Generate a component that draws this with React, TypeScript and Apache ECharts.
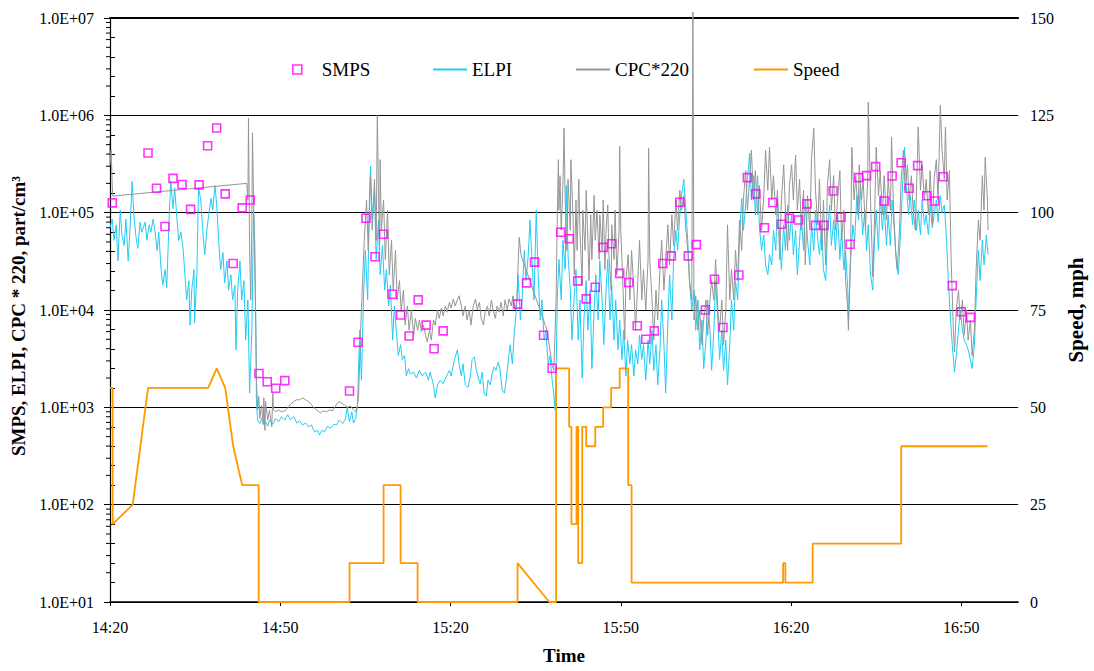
import React, { useEffect, useRef } from "react";
import * as echarts from "echarts";

// time in minutes after 14:20
const X_TICKS = [0, 30, 60, 90, 120, 150];

const SMPS: number[][] = [
  [0.4, 1.26e5], [6.7, 4.1e5], [8.2, 1.78e5], [9.7, 7.2e4], [11.1, 2.25e5], [12.7, 1.95e5],
  [14.2, 1.08e5], [15.7, 1.93e5], [17.2, 4.87e5], [18.8, 7.4e5], [20.3, 1.56e5], [21.7, 3.0e4],
  [23.3, 1.12e5], [24.7, 1.35e5], [26.25, 2.23e3], [27.7, 1.83e3], [29.2, 1.57e3], [30.8, 1.88e3],
  [42.2, 1.47e3], [43.7, 4.66e3], [45.1, 8.75e4], [46.7, 3.53e4], [48.2, 6.0e4], [49.7, 1.45e4],
  [51.2, 8.9e3], [52.7, 5.4e3], [54.3, 1.27e4], [55.7, 7.0e3], [57.1, 4.0e3], [58.7, 6.1e3],
  [71.8, 1.15e4], [73.4, 1.9e4], [74.8, 3.1e4], [76.4, 5.5e3], [77.9, 2.52e3], [79.4, 6.3e4],
  [80.9, 5.4e4], [82.4, 1.99e4], [83.9, 1.3e4], [85.5, 1.71e4], [86.9, 4.4e4], [88.4, 4.8e4],
  [89.8, 2.38e4], [91.4, 1.92e4], [92.9, 6.9e3], [94.4, 5.0e3], [95.9, 6.1e3], [97.4, 3.0e4],
  [98.9, 3.6e4], [100.4, 1.28e5], [101.9, 3.6e4], [103.3, 4.7e4], [104.9, 1.0e4], [106.5, 2.07e4],
  [108.0, 6.6e3], [110.8, 2.29e4], [112.3, 2.29e5], [113.8, 1.56e5], [115.3, 7.0e4], [116.8, 1.27e5],
  [118.3, 7.6e4], [119.7, 8.75e4], [121.3, 8.4e4], [122.8, 1.23e5], [124.3, 7.4e4], [125.8, 7.4e4],
  [127.4, 1.67e5], [128.8, 8.96e4], [130.4, 4.73e4], [131.9, 2.29e5], [133.3, 2.4e5], [134.9, 2.97e5],
  [136.4, 1.32e5], [137.8, 2.38e5], [139.4, 3.26e5], [140.8, 1.78e5], [142.3, 3.04e5], [143.9, 1.49e5],
  [145.3, 1.32e5], [146.8, 2.34e5], [148.4, 1.78e4], [150.0, 9.6e3], [151.6, 8.4e3],
];

const ELPI: number[][] = [
  [0, 7.0e4], [0.4, 8.6e4], [0.7, 5.2e4], [1.1, 7.5e4], [1.4, 3.2e4], [1.8, 1.06e5], [2.1, 5.9e4],
  [2.5, 4.6e4], [2.8, 8.6e4], [3.2, 3.2e4], [3.5, 6.3e4], [3.9, 2.1e5], [4.2, 9.5e4], [4.6, 5.5e4],
  [4.9, 4.3e4], [5.3, 8.0e4], [5.6, 6.3e4], [6.2, 8.0e4], [6.5, 5.2e4], [6.9, 7.5e4], [7.2, 6.3e4],
  [7.6, 8.6e4], [7.9, 6.6e4], [8.3, 4.1e4], [8.6, 6.3e4], [9.0, 2.6e4], [9.3, 1.8e4], [9.7, 2.6e4],
  [10.0, 1.7e4], [10.4, 8.4e4], [10.7, 2.1e5], [11.1, 1.1e5], [11.4, 1.8e5], [11.8, 8.6e4],
  [12.1, 5.2e4], [12.5, 6.3e4], [12.9, 4.1e4], [13.2, 2.3e4], [13.5, 1.27e4], [13.9, 2.0e4],
  [14.1, 7.0e3], [14.4, 1.6e4], [14.8, 2.6e4], [14.9, 7.4e3], [15.3, 2.3e4], [15.6, 1.8e5],
  [16.0, 1.35e5], [16.4, 5.9e4], [16.7, 3.7e4], [17.1, 7.0e4], [17.4, 9.5e4], [17.8, 1.4e5],
  [18.1, 1.06e5], [18.5, 1.9e5], [18.8, 1.2e5], [19.2, 4.6e4], [19.5, 2.6e4], [19.9, 3.9e4],
  [20.2, 1.9e4], [20.6, 3.2e4], [20.9, 1.6e4], [21.3, 2.3e4], [21.6, 1.27e4], [22.0, 1.8e4],
  [22.2, 3.9e3], [22.5, 1.6e4], [22.9, 3.2e4], [23.2, 1.27e4], [23.6, 2.0e4], [23.9, 4.9e3],
  [24.3, 1.27e4], [24.6, 1.4e3], [25.0, 6.2e3], [25.3, 1.06e5], [25.5, 5.2e4], [25.7, 6.2e3],
  [25.8, 1.19e3], [26.0, 7.4e2],
  [26.4, 6.8e2], [26.7, 7.7e2], [27.1, 6.6e2], [27.4, 7.1e2], [27.8, 6.4e2], [28.1, 7.4e2],
  [28.7, 6.7e2], [29.2, 7.7e2], [29.7, 7.1e2], [30.2, 8.0e2], [30.8, 7.4e2], [31.3, 8.4e2],
  [31.8, 7.5e2], [32.4, 8.0e2], [32.9, 6.9e2], [33.4, 7.3e2], [33.9, 6.6e2], [34.5, 6.9e2],
  [35.0, 6.3e2], [35.5, 6.6e2], [36.0, 5.6e2], [36.6, 5.8e2], [36.9, 5.2e2], [37.3, 5.8e2],
  [37.8, 5.6e2], [38.3, 6.4e2], [38.9, 6.1e2], [39.4, 6.7e2], [39.9, 6.6e2], [40.4, 7.4e2],
  [41.0, 6.8e2], [41.5, 7.7e2], [41.8, 1.0e3], [42.2, 7.1e2], [42.6, 9.0e2], [42.9, 6.9e2],
  [43.3, 7.7e2], [43.6, 1.05e3],
  [44.0, 6.2e3], [44.3, 1.9e3], [44.7, 1.6e4], [45.0, 4.1e4], [45.4, 1.27e4], [45.7, 1.35e5],
  [45.9, 3.0e5], [46.2, 8.4e4], [46.6, 1.7e5], [46.9, 3.3e4], [47.3, 8.4e4], [47.6, 2.3e4],
  [48.0, 4.6e4], [48.4, 1.6e4], [48.7, 2.6e4], [49.1, 1.1e4], [49.4, 1.8e4], [49.8, 4.9e3],
  [50.1, 1.1e4], [50.5, 5.5e3], [50.8, 3.4e3], [51.2, 4.4e3], [51.5, 3.1e3], [51.9, 3.4e3],
  [52.2, 2.1e3], [52.6, 2.5e3], [52.9, 2.2e3], [53.5, 2.3e3], [54.0, 2.0e3], [54.5, 2.4e3],
  [55.0, 2.1e3], [55.6, 2.3e3], [56.1, 1.9e3], [56.4, 2.3e3], [57.0, 1.7e3], [57.3, 1.25e3],
  [57.7, 1.7e3], [58.2, 1.9e3], [58.7, 1.75e3], [59.3, 2.1e3], [59.8, 2.4e3], [60.1, 2.1e3],
  [60.7, 3.1e3], [61.2, 3.9e3], [61.5, 2.8e3], [61.9, 2.1e3], [62.2, 2.8e3], [62.6, 1.7e3],
  [63.1, 1.6e3], [63.5, 2.1e3], [63.8, 3.1e3], [64.2, 3.3e3], [64.5, 2.5e3], [64.9, 2.0e3],
  [65.2, 1.75e3], [65.6, 2.3e3], [65.9, 1.4e3], [66.3, 1.3e3], [66.6, 1.9e3], [67.0, 1.7e3],
  [67.3, 2.2e3], [67.7, 2.6e3], [68.0, 2.4e3], [68.4, 2.9e3], [68.7, 2.5e3], [69.1, 1.5e3],
  [69.5, 1.4e3], [69.8, 1.9e3], [70.2, 3.1e3], [70.5, 4.4e3], [70.9, 2.8e3], [71.2, 5.5e3],
  [71.6, 1.0e4], [71.9, 2.3e4], [72.3, 7.9e3], [72.6, 1.27e4], [73.0, 4.1e4], [73.3, 2.0e4],
  [73.7, 3.7e4], [74.0, 8.4e4], [74.4, 2.9e4], [74.7, 1.27e4], [75.1, 1.06e5], [75.4, 2.6e4],
  [75.8, 7.9e3], [76.1, 1.27e4], [76.5, 4.9e3], [76.8, 6.2e3], [77.2, 2.8e3], [77.5, 3.4e3],
  [77.9, 1.9e3], [78.2, 1.35e3], [78.4, 9.4e2], [78.6, 2.4e3],
  [78.8, 1.27e4], [79.1, 3.3e4], [79.5, 1.27e4], [79.8, 5.2e4], [80.2, 2.6e4], [80.4, 1.9e5],
  [80.7, 3.7e4], [81.1, 1.6e4], [81.4, 4.9e3], [81.8, 1.4e4], [82.1, 2.6e4], [82.5, 4.9e3],
  [82.8, 1.27e4], [83.2, 2.0e3], [83.5, 7.9e3], [83.9, 2.0e4], [84.2, 6.2e3], [84.6, 1.6e4],
  [84.9, 2.5e3], [85.3, 1.0e4], [85.6, 2.3e4], [86.0, 7.9e3], [86.3, 3.2e4], [86.7, 1.27e4],
  [87.0, 4.4e3], [87.4, 1.6e4], [87.7, 3.3e4], [88.1, 7.9e3], [88.4, 1.8e4], [88.8, 4.9e3],
  [89.1, 1.27e4], [89.5, 3.9e3], [89.8, 7.9e3], [90.2, 3.1e3], [90.5, 6.2e3], [90.9, 2.1e3],
  [91.2, 4.9e3], [91.6, 2.8e3], [91.9, 4.4e3], [92.3, 2.1e3], [92.6, 3.9e3], [93.0, 2.8e3],
  [93.3, 5.5e3], [93.7, 3.1e3], [94.0, 4.4e3], [94.4, 1.9e3], [94.8, 4.9e3], [95.1, 2.8e3],
  [95.5, 6.2e3], [95.8, 2.4e3], [96.2, 4.4e3], [96.5, 1.7e3], [96.9, 3.9e3], [97.2, 1.27e4],
  [97.6, 4.4e3], [97.9, 1.4e3], [98.3, 7.9e3], [98.6, 2.3e4], [99.0, 7.9e3], [99.3, 3.3e4],
  [99.7, 6.6e4], [100.0, 4.1e4], [100.4, 9.5e4], [100.7, 1.5e5], [101.1, 2.2e5], [101.4, 1.2e5],
  [101.8, 5.2e4], [102.1, 2.0e4], [102.5, 1.0e4], [102.9, 1.6e4], [103.2, 6.2e3], [103.6, 1.27e4],
  [103.9, 3.9e3], [104.3, 7.9e3], [104.6, 2.5e3], [105.0, 4.9e3], [105.3, 1.27e4], [105.7, 6.2e3],
  [106.0, 2.4e3], [106.4, 6.2e3], [106.7, 2.0e4], [107.1, 7.9e3], [107.4, 3.1e3], [107.8, 6.2e3],
  [108.1, 2.4e3], [108.5, 4.9e3], [108.8, 1.7e3], [109.2, 4.4e3], [109.5, 1.27e4], [109.9, 6.2e3],
  [110.2, 2.0e4], [110.6, 1.27e4], [110.9, 5.2e4], [111.3, 1.4e5], [111.6, 6.6e4],
  [112.0, 1.2e5], [112.3, 2.2e5], [112.7, 4.1e5], [113.0, 1.35e5], [113.4, 2.4e5], [113.7, 9.5e4],
  [114.1, 2.4e5], [114.4, 7.5e4], [114.8, 4.1e4], [115.2, 5.9e4], [115.5, 2.9e4], [115.9, 2.3e4],
  [116.2, 3.7e4], [116.6, 2.9e4], [116.9, 6.6e4], [117.3, 4.1e4], [117.6, 1.35e5], [118.0, 5.2e4],
  [118.3, 2.6e4], [118.7, 7.5e4], [119.0, 4.1e4], [119.4, 1.2e5], [119.7, 5.2e4], [120.1, 9.5e4],
  [120.4, 3.7e4], [120.8, 6.6e4], [121.1, 2.3e4], [121.5, 5.2e4], [121.8, 9.5e4], [122.2, 4.1e4],
  [122.5, 1.35e5], [122.9, 5.2e4], [123.3, 2.9e4], [123.6, 7.5e4], [124.0, 4.1e4], [124.3, 1.06e5],
  [124.7, 5.2e4], [125.0, 3.7e4], [125.4, 7.5e4], [125.7, 2.6e4], [126.1, 2.0e4], [126.4, 5.9e4],
  [126.8, 1.2e5], [127.1, 4.6e4], [127.5, 8.4e4], [127.8, 4.1e4], [128.2, 9.5e4], [128.6, 3.3e4],
  [128.9, 6.6e4], [129.3, 2.6e4], [129.6, 4.1e4], [130.0, 1.6e4], [130.1, 7.9e3], [130.5, 3.3e4],
  [130.9, 7.5e4], [131.2, 5.2e4], [131.6, 1.5e5], [131.9, 8.4e4], [132.2, 1.9e5], [132.6, 5.9e4],
  [133.0, 1.06e5], [133.3, 4.1e4], [133.6, 7.5e4], [134.0, 2.3e4], [134.4, 1.6e4], [134.7, 5.2e4],
  [135.0, 1.06e5], [135.4, 4.1e4], [135.7, 1.5e5], [136.1, 6.6e4], [136.4, 1.2e5], [136.8, 4.6e4],
  [137.1, 9.5e4], [137.5, 4.6e4], [137.8, 1.35e5], [138.2, 6.6e4], [138.6, 2.9e4], [138.9, 2.3e4],
  [139.3, 6.6e4], [139.6, 1.7e5], [140.0, 4.7e5], [140.3, 1.9e5], [140.7, 9.5e4], [141.0, 1.5e5],
  [141.4, 7.5e4], [141.7, 1.35e5], [142.1, 6.6e4], [142.4, 1.06e5], [142.8, 5.9e4], [143.1, 1.35e5],
  [143.5, 7.5e4], [143.8, 9.5e4], [144.2, 5.9e4], [144.5, 1.2e5], [144.9, 7.0e4], [145.2, 9.5e4],
  [145.6, 1.35e5], [145.9, 8.0e4], [146.3, 1.5e5], [146.6, 1.0e5], [147.0, 1.2e5], [147.4, 5.2e4],
  [147.7, 2.0e4], [148.1, 7.9e3], [148.4, 4.4e3], [148.8, 2.3e3], [149.1, 3.4e3], [149.5, 6.2e3],
  [149.8, 1.0e4], [150.2, 6.2e3], [150.5, 4.9e3], [150.9, 4.4e3], [151.2, 3.9e3], [151.6, 3.1e3],
  [151.9, 2.5e3], [152.3, 4.4e3], [152.6, 1.27e4], [153.0, 4.1e4], [153.3, 2.0e4], [153.7, 5.2e4],
  [154.0, 2.9e4], [154.4, 5.9e4], [154.7, 3.7e4],
];

const CPC: number[][] = [
  [-0.7, 7.1e5], [-0.5, 1.13e6], [-0.4, 2.2e5], [-0.2, 5.6e5], [0, 3.1e5], [0.2, 4.4e5],
  [0.4, 1.9e5], [0.5, 1.48e5], [24.1, 2.0e5], [24.3, 1.35e5], [24.4, 9.4e5], [24.6, 4.1e4],
  [24.8, 1.27e4], [25.0, 8.4e4], [25.1, 6.6e5], [25.3, 1.35e5], [25.5, 3.3e4], [25.7, 6.2e3],
  [25.8, 1.9e3], [26.0, 9.4e2],
  [26.2, 1.3e3], [26.4, 7.7e2], [26.7, 1.05e3], [27.0, 6.7e2], [27.1, 1.25e3], [27.3, 5.8e2],
  [27.4, 1.15e3], [27.8, 7.4e2], [28.1, 9.4e2], [28.5, 6.3e2], [28.7, 1.4e3], [28.8, 9.4e2],
  [29.2, 9.0e2], [29.7, 9.4e2], [30.2, 9.0e2], [30.8, 9.2e2], [31.3, 9.8e2], [31.8, 1.08e3],
  [32.4, 1.15e3], [32.9, 1.2e3], [33.4, 1.19e3], [33.9, 1.25e3], [34.5, 1.19e3], [35.0, 1.15e3],
  [35.5, 1.06e3], [36.0, 9.8e2], [36.6, 9.2e2], [37.1, 8.8e2], [37.6, 9.2e2], [38.2, 9.0e2],
  [38.7, 9.4e2], [39.2, 9.2e2], [39.7, 1.03e3], [40.3, 1.15e3], [40.8, 1.1e3], [41.3, 1.06e3],
  [41.8, 1.0e3], [42.4, 1.03e3], [42.9, 9.4e2], [43.3, 9.0e2], [43.6, 1.05e3], [43.8, 1.3e3],
  [44.1, 4.9e3], [44.5, 2.0e4], [44.8, 5.2e4], [45.2, 1.35e5], [45.5, 4.1e4], [45.9, 2.4e5],
  [46.2, 6.6e4], [46.6, 2.2e5], [46.9, 5.2e4], [47.1, 1.0e6], [47.3, 1.7e5], [47.5, 4.1e4],
  [47.6, 3.5e5], [47.8, 6.6e4], [48.2, 1.35e5], [48.5, 3.3e4], [48.9, 1.06e5], [49.2, 2.3e4],
  [49.6, 5.2e4], [49.9, 1.6e4], [50.3, 4.1e4], [50.6, 1.27e4], [51.0, 2.0e4], [51.3, 1.0e4],
  [51.7, 1.6e4], [52.0, 7.0e3], [52.4, 1.1e4], [52.7, 6.2e3], [53.1, 1.0e4], [53.5, 5.5e3],
  [53.8, 8.2e3], [54.2, 6.2e3], [54.5, 7.9e3], [54.9, 6.0e3], [55.2, 7.0e3], [55.6, 5.5e3],
  [55.9, 4.7e3], [56.3, 6.2e3], [56.6, 4.9e3], [57.0, 7.9e3], [57.3, 7.0e3], [57.7, 1.0e4],
  [58.0, 8.2e3], [58.4, 1.05e4], [58.7, 8.7e3], [59.1, 1.1e4], [59.4, 9.5e3], [59.8, 1.2e4],
  [60.1, 1.05e4], [60.5, 1.3e4], [60.8, 1.1e4], [61.2, 1.27e4], [61.5, 1.4e4], [61.9, 1.1e4],
  [62.2, 8.7e3], [62.6, 1.1e4], [62.9, 7.9e3], [63.3, 1.0e4], [63.6, 7.0e3], [64.0, 1.1e4],
  [64.4, 1.3e4], [64.7, 1.0e4], [65.1, 1.2e4], [65.4, 8.2e3], [65.8, 7.0e3], [66.1, 9.5e3],
  [66.5, 1.1e4], [66.8, 8.7e3], [67.2, 1.27e4], [67.5, 1.0e4], [67.9, 8.2e3], [68.2, 1.1e4],
  [68.6, 9.5e3], [68.9, 1.2e4], [69.3, 8.7e3], [69.6, 1.27e4], [70.0, 1.0e4], [70.3, 1.3e4],
  [70.7, 1.1e4], [71.0, 1.4e4], [71.4, 1.0e4], [71.7, 1.27e4], [71.9, 2.9e4], [72.1, 5.6e4],
  [72.4, 3.7e4], [77.0, 6.2e3], [77.9, 2.7e3], [78.2, 2.4e3],
  [78.6, 1.27e4], [78.8, 8.4e4], [79.0, 3.5e5], [79.1, 1.06e5], [79.3, 2.4e5], [79.5, 6.6e4],
  [79.8, 1.9e5], [80.0, 7.4e5], [80.2, 1.35e5], [80.5, 4.1e4], [80.7, 2.2e5], [81.1, 6.6e4],
  [81.2, 3.5e5], [81.6, 8.4e4], [81.8, 2.3e4], [82.1, 1.35e5], [82.3, 4.1e4], [82.6, 2.2e5],
  [82.8, 6.6e4], [83.2, 1.8e4], [83.3, 1.06e5], [83.7, 4.1e4], [83.9, 1.7e5], [84.2, 5.2e4],
  [84.4, 2.0e4], [84.7, 9.5e4], [84.9, 3.3e4], [85.3, 1.5e5], [85.5, 5.2e4], [85.8, 1.06e5],
  [86.2, 3.3e4], [86.3, 9.5e4], [86.7, 4.1e4], [86.9, 1.35e5], [87.2, 2.6e4], [87.4, 6.6e4],
  [87.7, 1.2e5], [87.9, 3.7e4], [88.3, 1.6e4], [88.4, 7.5e4], [88.8, 3.3e4], [89.0, 1.06e5],
  [89.3, 2.3e4], [89.7, 6.6e4], [89.8, 4.8e5], [90.0, 6.6e4], [90.4, 1.6e4], [90.7, 4.9e3],
  [90.9, 2.0e4], [91.3, 3.7e4], [91.6, 1.27e4], [91.9, 4.1e4], [92.3, 1.6e4], [92.6, 6.2e3],
  [93.0, 2.0e4], [93.3, 5.2e4], [93.7, 1.27e4], [94.0, 2.6e4], [94.4, 1.0e4], [94.8, 3.3e4],
  [94.9, 4.6e5], [95.1, 3.3e4], [95.5, 1.27e4], [95.8, 4.9e3], [96.2, 1.6e4], [96.5, 7.9e3],
  [96.9, 2.6e4], [97.2, 5.2e4], [97.6, 1.6e4], [97.9, 3.3e4], [98.3, 7.5e4], [98.6, 2.9e4],
  [99.0, 9.5e4], [99.3, 4.6e4], [99.7, 1.35e5], [100.0, 6.6e4], [100.4, 1.7e5], [100.7, 1.06e5],
  [101.1, 1.5e5], [101.4, 7.5e4], [101.8, 4.1e4], [102.1, 2.0e4], [102.5, 1.27e4], [102.7, 1.15e7],
  [102.9, 7.9e3], [103.2, 1.4e4], [103.6, 6.2e3], [103.9, 1.0e4], [104.3, 4.4e3], [104.6, 7.9e3],
  [105.0, 1.27e4], [105.3, 5.5e3], [105.7, 1.27e4], [106.0, 2.0e4], [106.4, 1.27e4], [106.7, 3.3e4],
  [107.1, 1.0e4], [107.4, 6.2e3], [107.8, 1.27e4], [108.1, 4.4e3], [108.5, 1.0e4], [108.8, 7.5e4],
  [109.2, 1.27e4], [109.5, 2.6e4], [109.9, 1.27e4], [110.2, 4.1e4], [110.6, 2.0e4], [110.9, 8.4e4],
  [111.3, 4.1e4], [111.6, 1.35e5],
  [112.0, 2.7e5], [112.3, 1.06e5], [112.7, 2.2e5], [113.0, 4.4e5], [113.4, 1.35e5], [113.7, 2.7e5],
  [114.1, 9.5e4], [114.4, 1.9e5], [114.8, 6.6e4], [115.2, 1.5e5], [115.5, 4.4e5], [115.9, 1.7e5],
  [116.2, 4.7e5], [116.6, 1.35e5], [116.9, 2.4e5], [117.3, 9.5e4], [117.6, 1.7e5], [118.0, 3.3e4],
  [118.3, 1.35e5], [118.7, 3.1e5], [119.0, 1.06e5], [119.4, 4.1e4], [119.7, 1.9e5], [120.1, 3.1e5],
  [120.4, 1.35e5], [120.8, 3.9e5], [121.1, 1.06e5], [121.5, 2.2e5], [121.8, 6.6e4], [122.2, 1.7e5],
  [122.5, 2.9e4], [122.9, 1.5e5], [123.3, 6.6e4], [123.6, 3.5e5], [124.0, 7.4e5], [124.3, 1.7e5],
  [124.7, 7.5e4], [125.0, 2.2e5], [125.4, 4.1e4], [125.7, 1.35e5], [126.1, 2.9e4], [126.4, 1.9e5],
  [126.8, 3.5e5], [127.1, 1.06e5], [127.5, 2.4e5], [127.8, 6.6e4], [128.2, 1.35e5], [128.6, 2.7e5],
  [128.9, 5.2e4], [129.3, 1.06e5], [129.6, 2.0e4], [130.0, 1.0e4], [130.1, 6.2e3], [130.5, 4.1e4],
  [130.7, 4.7e5], [131.1, 1.35e5], [131.4, 2.4e5], [131.8, 9.5e4], [132.0, 3.1e5], [132.4, 1.35e5],
  [132.7, 2.2e5], [133.1, 6.6e4], [133.5, 2.2e5], [133.6, 1.37e6], [134.0, 1.35e5], [134.4, 2.2e4],
  [134.7, 8.4e4], [135.0, 4.7e5], [135.4, 1.5e5], [135.7, 2.7e5], [136.1, 9.5e4], [136.4, 2.4e5],
  [136.8, 8.4e4], [137.1, 2.2e5], [137.5, 1.06e5], [137.7, 6.0e5], [138.0, 1.35e5], [138.4, 4.1e4],
  [138.7, 2.6e4], [139.1, 6.6e4], [139.4, 2.2e5], [139.8, 4.4e5], [140.1, 1.7e5], [140.5, 3.1e5],
  [140.8, 1.35e5], [141.2, 2.4e5], [141.5, 1.06e5], [141.9, 6.6e4], [142.2, 2.7e5], [142.4, 7.6e5],
  [142.8, 1.7e5], [143.1, 3.1e5], [143.5, 1.35e5], [143.8, 2.2e5], [144.2, 9.5e4], [144.5, 2.7e5],
  [144.9, 7.5e4], [145.2, 2.2e5], [145.6, 3.5e5], [145.9, 1.35e5], [146.3, 1.27e6], [146.6, 4.4e5],
  [147.0, 2.2e5], [147.2, 7.6e5], [147.5, 1.35e5], [147.9, 2.7e5], [148.2, 3.3e4], [148.6, 6.2e3],
  [148.8, 3.7e3], [149.1, 1.0e4], [149.5, 1.6e4], [149.8, 7.9e3], [150.2, 1.27e4], [150.5, 5.5e3],
  [150.9, 1.0e4], [151.2, 4.9e3], [151.6, 7.9e3], [151.9, 3.4e3], [152.3, 6.2e3], [152.6, 2.6e4],
  [153.0, 8.4e4], [153.3, 5.2e4], [153.7, 2.4e5], [154.0, 1.06e5], [154.2, 3.7e5], [154.6, 1.35e5],
  [154.7, 6.6e4],
];

const SPEED: number[][] = [
  [0, 55], [0.47, 55], [0.47, 20], [4, 25], [6.7, 55], [17.3, 55], [18.8, 60], [20.3, 55],
  [21.7, 40], [23.3, 30], [26.2, 30], [26.2, 0], [42.2, 0], [42.2, 10], [48.2, 10], [48.2, 30],
  [51.2, 30], [51.2, 10], [54.2, 10], [54.2, 0], [71.8, 0], [71.8, 10], [77.4, 0], [78.6, 0],
  [78.6, 60], [80.9, 60], [80.9, 45], [81.3, 45], [81.3, 20], [82.2, 20], [82.2, 45], [82.5, 45],
  [82.5, 10], [83.2, 10], [83.2, 45], [83.9, 45], [83.9, 40], [85.5, 40], [85.5, 45], [86.9, 45],
  [86.9, 50], [88.3, 50], [88.3, 55], [89.8, 55], [89.8, 60], [91.3, 60], [91.3, 30], [91.9, 30],
  [91.9, 5], [118.6, 5], [118.6, 10], [119.0, 10], [119.0, 5], [123.8, 5], [123.8, 15],
  [139.4, 15], [139.4, 40], [154.6, 40],
];

const FONT = "Liberation Serif";

function fmtTime(t: number): string {
  const m = 14 * 60 + 20 + Math.round(t);
  const h = Math.floor(m / 60);
  const mm = m % 60;
  return "{t|" + h + ":" + String(mm).padStart(2, "0") + "}";
}

function fmtSci(v: number): string {
  const e = Math.round(Math.log10(v));
  return "{t|1.0E+" + String(e).padStart(2, "0") + "}";
}

function fmtSpeed(v: number): string {
  return "{t|" + v + "}";
}

const minorLogTicks: number[][] = [];
for (let d = 1; d < 7; d++) {
  for (let m = 2; m <= 9; m++) minorLogTicks.push([0, m * Math.pow(10, d)]);
}

const richTick = { t: { fontFamily: FONT, fontSize: 16, color: "#000" } };
const tickLabelStyle = { fontFamily: FONT, fontSize: 16, color: "#000", rich: richTick };

export default function App() {
  const ref = useRef<HTMLDivElement>(null);
  useEffect(() => {
    if (!ref.current) return;
    const chart = echarts.init(ref.current, undefined, { renderer: "svg" });
    const lineLegend = (name: string, left: number) => ({
      left,
      top: 55,
      orient: "horizontal",
      data: [name],
      icon: "rect",
      itemWidth: 34,
      itemHeight: 2,
      selectedMode: false,
      textStyle: { fontFamily: FONT, fontSize: 19, color: "#000" },
    });
    chart.setOption({
      animation: false,
      backgroundColor: "#fff",
      textStyle: { fontFamily: FONT, fontSize: 16, color: "#000" },
      grid: { left: 110, right: 74, top: 18, bottom: 69, containLabel: false },
      legend: [
        {
          left: 287,
          top: 55,
          data: [
            {
              name: "SMPS",
              icon: "rect",
              itemStyle: { color: "rgba(0,0,0,0)", borderColor: "#FF00FF", borderWidth: 1.6 },
            },
          ],
          itemWidth: 9,
          itemHeight: 9,
          selectedMode: false,
          textStyle: { fontFamily: FONT, fontSize: 19, color: "#000", padding: [0, 0, 0, 15] },
        },
        lineLegend("ELPI", 428),
        lineLegend("CPC*220", 571),
        lineLegend("Speed", 749),
      ],
      xAxis: [
        {
          type: "value",
          min: 0,
          max: 160,
          interval: 30,
          name: "Time",
          nameLocation: "middle",
          nameGap: 44,
          nameTextStyle: { fontFamily: FONT, fontSize: 19, fontWeight: "bold", color: "#000" },
          axisLine: { show: true, lineStyle: { color: "#000", width: 1.5 } },
          axisTick: { show: true, length: 4, customValues: X_TICKS, lineStyle: { color: "#000" } },
          axisLabel: {
            customValues: X_TICKS,
            formatter: (v: number) => fmtTime(v),
            margin: 17,
            ...tickLabelStyle,
          },
          splitLine: { show: false },
        },
        {
          type: "value",
          position: "top",
          min: 0,
          max: 160,
          axisLine: { show: true, onZero: false, lineStyle: { color: "#000", width: 2 } },
          axisTick: { show: false },
          axisLabel: { show: false },
          splitLine: { show: false },
        },
      ],
      yAxis: [
        {
          type: "log",
          logBase: 10,
          min: 10,
          max: 1e7,
          position: "left",
          name: "SMPS, ELPI, CPC * 220, part/cm³",
          nameLocation: "middle",
          nameRotate: 90,
          nameGap: 79,
          nameTextStyle: {
            fontFamily: FONT,
            fontSize: 19,
            fontWeight: "bold",
            color: "#000",
            padding: [0, 12, 0, 0],
          },
          axisLine: { show: true, lineStyle: { color: "#000", width: 1 } },
          axisTick: { show: true, length: 6, lineStyle: { color: "#000" } },
          axisLabel: {
            formatter: (v: number) => fmtSci(v),
            margin: 16,
            ...tickLabelStyle,
          },
          splitLine: { show: true, lineStyle: { color: "#000", width: 1 } },
        },
        {
          type: "value",
          min: 0,
          max: 150,
          interval: 25,
          position: "right",
          name: "Speed, mph",
          nameLocation: "middle",
          nameRotate: 90,
          nameGap: 44,
          nameTextStyle: { fontFamily: FONT, fontSize: 21, fontWeight: "bold", color: "#000" },
          axisLine: { show: true, lineStyle: { color: "#000", width: 1.2 } },
          axisTick: { show: true, length: 5, lineStyle: { color: "#000" } },
          minorTick: { show: true, splitNumber: 5, length: 5, lineStyle: { color: "#000" } },
          axisLabel: { margin: 12, formatter: (v: number) => fmtSpeed(v), ...tickLabelStyle },
          splitLine: { show: false },
        },
      ],
      series: [
        {
          name: "ELPI",
          type: "line",
          data: ELPI,
          xAxisIndex: 0,
          yAxisIndex: 0,
          showSymbol: false,
          symbol: "none",
          color: "#22CCF5",
          lineStyle: { width: 1, color: "#22CCF5" },
          z: 2,
        },
        {
          name: "CPC*220",
          type: "line",
          data: CPC,
          xAxisIndex: 0,
          yAxisIndex: 0,
          showSymbol: false,
          symbol: "none",
          clip: false,
          color: "#969696",
          lineStyle: { width: 1, color: "#969696" },
          z: 3,
        },
        {
          name: "Speed",
          type: "line",
          data: SPEED,
          xAxisIndex: 0,
          yAxisIndex: 1,
          showSymbol: false,
          symbol: "none",
          color: "#FF9900",
          lineStyle: { width: 1.8, color: "#FF9900" },
          z: 4,
        },
        {
          name: "SMPS",
          type: "scatter",
          data: SMPS,
          xAxisIndex: 0,
          yAxisIndex: 0,
          symbol: "rect",
          symbolSize: 8,
          itemStyle: { color: "rgba(0,0,0,0)", borderColor: "#FF00FF", borderWidth: 1.6 },
          z: 5,
        },
        {
          name: "minorTicks",
          type: "custom",
          xAxisIndex: 0,
          yAxisIndex: 0,
          data: minorLogTicks,
          silent: true,
          clip: false,
          renderItem: (params: any, api: any) => {
            const p = api.coord([api.value(0), api.value(1)]);
            return {
              type: "line",
              shape: { x1: p[0] - 4, y1: p[1], x2: p[0], y2: p[1] },
              style: { stroke: "#000", lineWidth: 1 },
            };
          },
          z: 6,
        },
      ],
    });
    return () => chart.dispose();
  }, []);
  return (
    <div
      ref={ref}
      style={{ position: "fixed", left: 0, top: 0, width: 1094, height: 671, background: "#fff" }}
    />
  );
}
